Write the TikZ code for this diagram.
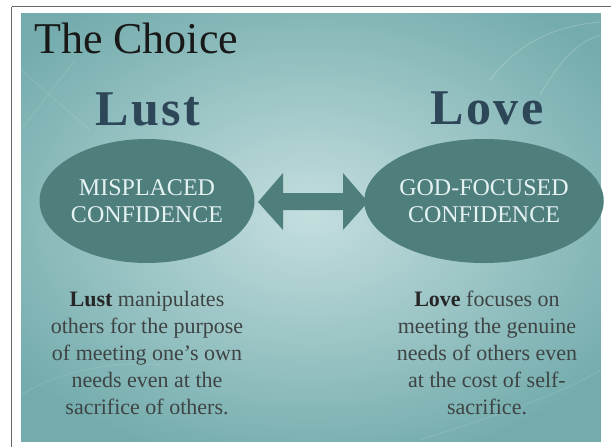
\documentclass[tikz,border=0pt]{standalone}
\usepackage{fontspec}
\usetikzlibrary{shapes.geometric}
\setmainfont{Liberation Serif}
\newfontfamily\headfont[LetterSpace=5]{Liberation Serif}
\newfontfamily\capfont{Liberation Serif}
\begin{document}
\begin{tikzpicture}[x=1pt,y=-1pt,
  bubble/.style={ellipse,fill=bubblecol,minimum width=200pt,minimum height=124pt,inner sep=0pt,
    text=white!90!teal,align=center,font=\capfont\fontsize{24}{27}\selectfont},
  headword/.style={anchor=base,text=headcol,font=\headfont\bfseries\fontsize{50}{50}\selectfont,inner sep=0pt},
  bodytext/.style={anchor=north,align=center,text=bodycol,inner sep=0pt,font=\rmfamily\fontsize{22}{27}\selectfont},
  swirl/.style={white,opacity=0.18,line width=1pt}]
\definecolor{bubblecol}{HTML}{4F7F7C}
\definecolor{headcol}{HTML}{2D4658}
\definecolor{bodycol}{HTML}{3E4444}
\definecolor{edgecol}{HTML}{74ACAD}
\definecolor{midcol}{HTML}{C4DEDE}
\useasboundingbox (0,0) rectangle (611,447);
\fill[white] (0,0) rectangle (611,447);
\draw[gray!80!black,line width=1pt] (11.5,6.5) rectangle (640,470);
% panel: lighter broad centre, darker rim
\fill[edgecol] (21,13) rectangle (601,442);
\shade[inner color=midcol,outer color=edgecol] (-60,-40) rectangle (680,470);
\begin{scope}
\clip (0,0) rectangle (21,447);
\fill[white] (0,0) rectangle (21,447);
\end{scope}
\fill[white] (0,0) rectangle (611,13);
\fill[white] (0,442) rectangle (611,447);
\fill[white] (601,0) rectangle (611,447);
\draw[gray!80!black,line width=1pt] (11.5,6.5) -- (611,6.5);
\draw[gray!80!black,line width=1pt] (11.5,6.5) -- (11.5,447);
% faint decorations
\draw[swirl] (490,80) .. controls (520,40) and (560,25) .. (601,22);
\draw[swirl] (540,95) .. controls (560,60) and (580,40) .. (601,35);
\draw[swirl,opacity=0.1] (21,70) -- (90,130);
\draw[swirl,opacity=0.1] (21,130) -- (75,60);
\draw[swirl,opacity=0.1] (21,395) .. controls (60,370) and (120,360) .. (160,365);
\draw[swirl,opacity=0.1] (420,440) .. controls (480,420) and (550,400) .. (601,370);
% title
\node[anchor=base west,inner sep=0pt,font=\rmfamily\fontsize{44}{44}\selectfont,text=black!90] (title) at (34,53) {The Choice};
% headwords
\node[headword] (lust) at (148,125) {Lust};
\node[headword] (love) at (487,124) {Love};
% ellipses
\node[bubble] (mis) at (147,201) {MISPLACED\\CONFIDENCE};
\node[bubble] (god) at (484,201) {GOD-FOCUSED\\CONFIDENCE};
% double arrow
\fill[bubblecol] (258,202) -- (283,173) -- (283,193) -- (343,193) -- (343,173) -- (368,202)
  -- (343,230) -- (343,210) -- (283,210) -- (283,230) -- cycle;
% body texts
\node[bodytext] (lusttext) at (147,291) {\textbf{\color{black!85}Lust} manipulates\\others for the purpose\\of meeting one’s own\\needs even at the\\sacrifice of others.};
\node[bodytext] (lovetext) at (487,291) {\textbf{\color{black!85}Love} focuses on\\meeting the genuine\\needs of others even\\at the cost of self-\\sacrifice.};
\end{tikzpicture}
\end{document}
